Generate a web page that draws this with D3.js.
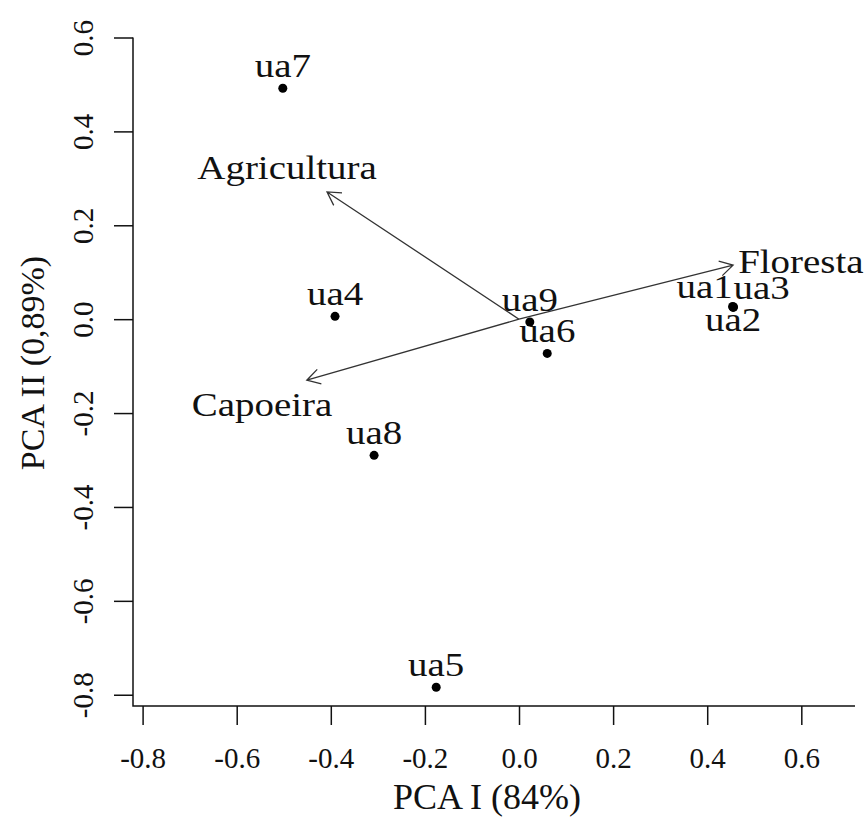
<!DOCTYPE html>
<html>
<head>
<meta charset="utf-8">
<script src="https://cdn.jsdelivr.net/npm/d3@7"></script>
<style>
  body { margin: 0; background: #fff; }
  text { font-family: "Liberation Serif", "Times New Roman", serif; fill: #111; }
</style>
</head>
<body>
<div id="chart"></div>
<script>
// site scores (PCA I, PCA II)
var sites  = ["ua1", "ua2", "ua3", "ua4", "ua5", "ua6", "ua7", "ua8", "ua9"];
var siteX  = [0.454, 0.455, 0.456, -0.391, -0.176, 0.060, -0.502, -0.308, 0.023];
var siteY  = [0.027, 0.025, 0.026, 0.006, -0.784, -0.073, 0.492, -0.290, -0.006];
// where the label sits relative to the point (like R's pos)
var sitePos = ["nw", "s", "ne", "n", "n", "n", "n", "n", "n"];

// variable arrows
var vars      = ["Agricultura", "Floresta", "Capoeira"];
var varX      = [-0.408, 0.455, -0.451];
var varY      = [0.271, 0.115, -0.130];
var varLabelX = [-0.493, 0.599, -0.546];
var varLabelY = [0.322, 0.121, -0.183];

// ticks and axis titles
var xTicks = [-0.8, -0.6, -0.4, -0.2, 0.0, 0.2, 0.4, 0.6];
var yTicks = [-0.8, -0.6, -0.4, -0.2, 0.0, 0.2, 0.4, 0.6];
var xTitle = "PCA I (84%)";
var yTitle = "PCA II (0,89%)";

var W = 867, H = 825;
var plot = {left: 133, right: 855, top: 37.5, bottom: 706};

var x = d3.scaleLinear().domain([-0.8204, 0.7141]).range([plot.left, plot.right]);
var y = d3.scaleLinear().domain([-0.824, 0.6]).range([plot.bottom, plot.top]);

var fmt = function(d) { return (Math.abs(d) < 1e-9 ? 0 : d).toFixed(1); };

var svg = d3.select("#chart").append("svg")
    .attr("width", W)
    .attr("height", H);

// x axis
var gx = svg.append("g")
    .attr("transform", "translate(0," + plot.bottom + ")")
    .call(d3.axisBottom(x).tickValues(xTicks).tickFormat(fmt).tickSize(19).tickSizeOuter(0).tickPadding(22));
gx.select(".domain").remove();
gx.selectAll(".tick line").attr("stroke", "#111").attr("stroke-width", 1.5);
gx.selectAll(".tick text")
    .style("font-size", "29px")
    .style("font-family", "Liberation Serif");

// y axis, labels turned like R's las=0
var gy = svg.append("g")
    .attr("transform", "translate(" + plot.left + ",0)")
    .call(d3.axisLeft(y).tickValues(yTicks).tickFormat(fmt).tickSize(19).tickSizeOuter(0));
gy.select(".domain").remove();
gy.selectAll(".tick line").attr("stroke", "#111").attr("stroke-width", 1.5);
gy.selectAll(".tick text")
    .attr("x", null)
    .attr("dy", null)
    .attr("text-anchor", "middle")
    .attr("transform", "translate(-40,0) rotate(-90)")
    .style("font-size", "29px")
    .style("font-family", "Liberation Serif");

// L shaped box
svg.append("path")
    .attr("d", "M" + plot.left + "," + plot.top + "V" + plot.bottom + "H" + plot.right)
    .attr("fill", "none")
    .attr("stroke", "#111")
    .attr("stroke-width", 1.5);

// axis titles
svg.append("text")
    .attr("x", 487)
    .attr("y", 809)
    .attr("text-anchor", "middle")
    .style("font-size", "36px")
    .text(xTitle);

svg.append("text")
    .attr("transform", "translate(44,363) rotate(-90)")
    .attr("text-anchor", "middle")
    .style("font-size", "34px")
    .text(yTitle);

// arrows from the origin
var arrows = svg.append("g");
vars.forEach(function(v, i) {
  var x0 = x(0), y0 = y(0), x1 = x(varX[i]), y1 = y(varY[i]);
  var ang = Math.atan2(y1 - y0, x1 - x0);
  var len = 15, spread = Math.PI / 6;
  var hx1 = x1 - len * Math.cos(ang - spread), hy1 = y1 - len * Math.sin(ang - spread);
  var hx2 = x1 - len * Math.cos(ang + spread), hy2 = y1 - len * Math.sin(ang + spread);
  arrows.append("path")
      .attr("d", "M" + x0 + "," + y0 + "L" + x1 + "," + y1 +
                 "M" + hx1 + "," + hy1 + "L" + x1 + "," + y1 + "L" + hx2 + "," + hy2)
      .attr("fill", "none")
      .attr("stroke", "#333")
      .attr("stroke-width", 1.3);
});

// plot labels look a bit wide in the original
var sx = 1.18;

arrows.selectAll("text.var")
    .data(vars)
    .enter()
    .append("text")
    .attr("class", "var")
    .attr("transform", function(d, i) {
      return "translate(" + x(varLabelX[i]) + "," + y(varLabelY[i]) + ") scale(" + sx + ",1)";
    })
    .attr("dy", "0.33em")
    .attr("text-anchor", "middle")
    .style("font-size", "33px")
    .text(function(d) { return d; });

// site points
svg.selectAll("circle.site")
    .data(sites)
    .enter()
    .append("circle")
    .attr("class", "site")
    .attr("cx", function(d, i) { return x(siteX[i]); })
    .attr("cy", function(d, i) { return y(siteY[i]); })
    .attr("r", 4.5)
    .attr("fill", "#000");

// site labels
svg.selectAll("text.site")
    .data(sites)
    .enter()
    .append("text")
    .attr("class", "site")
    .attr("transform", function(d, i) {
      var px = x(siteX[i]), py = y(siteY[i]);
      var dy = sitePos[i] == "s" ? 24 : (sitePos[i] == "n" ? -11 : -8);
      return "translate(" + px + "," + (py + dy) + ") scale(" + sx + ",1)";
    })
    .attr("text-anchor", function(d, i) {
      if (sitePos[i] == "nw") return "end";
      if (sitePos[i] == "ne") return "start";
      return "middle";
    })
    .style("font-size", "33px")
    .text(function(d) { return d; });
</script>
</body>
</html>
